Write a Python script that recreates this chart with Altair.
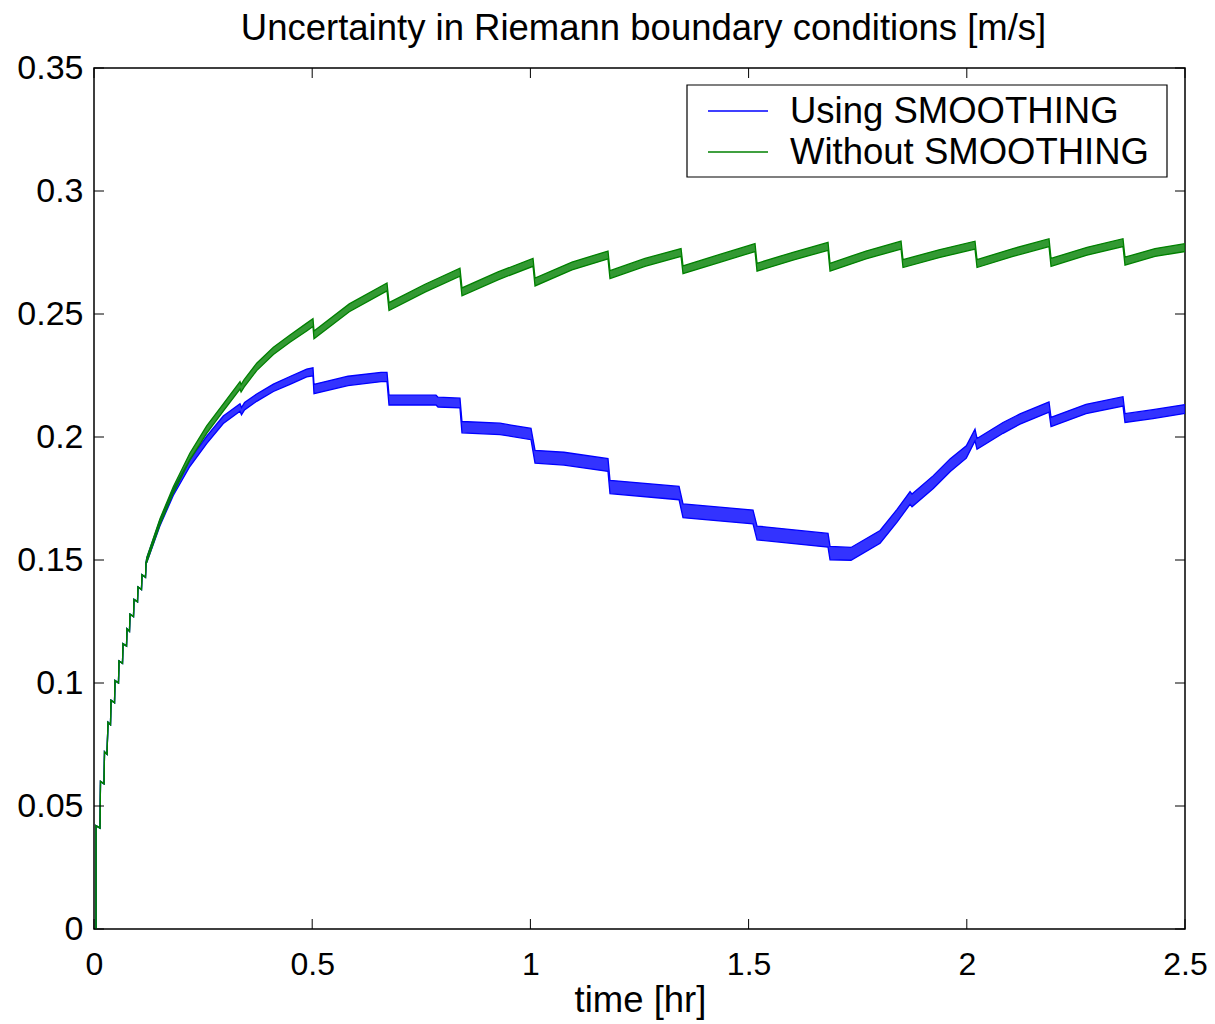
import altair as alt
import pandas as pd

TITLE = "Uncertainty in Riemann boundary conditions [m/s]"
XLABEL = "time [hr]"
SERIES = ["Using SMOOTHING", "Without SMOOTHING"]
COLORS = ["#0000ff", "#008000"]

x_ticks = [0, 0.5, 1, 1.5, 2, 2.5]
y_ticks = [0, 0.05, 0.1, 0.15, 0.2, 0.25, 0.3, 0.35]

# shared staircase start (both runs coincide here)
early_t = [0.0046, 0.0046, 0.0137, 0.0149, 0.0229, 0.0241, 0.0298, 0.0321, 0.0378, 0.0390,
           0.0470, 0.0481, 0.0561, 0.0573, 0.0653, 0.0665, 0.0745, 0.0756, 0.0813, 0.0825,
           0.0905, 0.0917, 0.0997, 0.1008, 0.1088, 0.1100, 0.1180, 0.1192]
early_v = [0.0, 0.042, 0.041, 0.060, 0.059, 0.072, 0.071, 0.084, 0.083, 0.093,
           0.092, 0.101, 0.100, 0.109, 0.108, 0.116, 0.115, 0.122, 0.121, 0.128,
           0.127, 0.134, 0.133, 0.139, 0.138, 0.144, 0.143, 0.149]
early_osc = [0, 0, 0, 0, 0, 0, 0, 0, 0, 0,
             0, 0, 0, 0, 0, 0, 0, 0, 0, 0,
             0, 0, 0, 0, 0, 0, 0, 0]

# "Without SMOOTHING" (green): centre of the oscillating trace and its half amplitude
green_t = early_t + [0.121, 0.151, 0.1817, 0.2196, 0.2582, 0.2963, 0.3346, 0.3370, 0.3440, 0.3728,
                     0.4111, 0.4491, 0.4874, 0.5018, 0.5041,
                     0.5850, 0.6714, 0.6760, 0.7585, 0.8386, 0.8432, 0.9258, 1.0060, 1.0106,
                     1.0953, 1.1778, 1.1824, 1.2626, 1.3452, 1.3497, 1.4322, 1.5147, 1.5193,
                     1.6017, 1.6820, 1.6866, 1.7690, 1.8493, 1.8538, 1.9363, 2.0188, 2.0234,
                     2.1059, 2.1884, 2.1930, 2.2755, 2.3579, 2.3625, 2.4313, 2.5]
green_v = early_v + [0.150, 0.1655, 0.1785, 0.192, 0.203, 0.212, 0.221, 0.2198, 0.2218, 0.2285,
                     0.235, 0.240, 0.2447, 0.2465, 0.2415,
                     0.2525, 0.261, 0.253, 0.2605, 0.267, 0.259, 0.2655, 0.271, 0.263,
                     0.2695, 0.274, 0.266, 0.271, 0.275, 0.268, 0.2725, 0.277, 0.269,
                     0.2735, 0.2775, 0.269, 0.274, 0.278, 0.2705, 0.2745, 0.278, 0.2705,
                     0.275, 0.279, 0.271, 0.2755, 0.279, 0.2715, 0.275, 0.277]
green_osc = early_osc + [0.0010, 0.0012, 0.0013, 0.0014, 0.0015, 0.0015, 0.0015, 0.0015, 0.0015, 0.0015,
                         0.0015, 0.0015, 0.0016, 0.0016, 0.0016,
                         0.0016, 0.0016, 0.0016, 0.0016, 0.0016, 0.0016, 0.0016, 0.0016, 0.0016,
                         0.0016, 0.0016, 0.0016, 0.0016, 0.0016, 0.0016, 0.0016, 0.0016, 0.0016,
                         0.0016, 0.0016, 0.0016, 0.0016, 0.0016, 0.0016, 0.0016, 0.0016, 0.0016,
                         0.0016, 0.0016, 0.0016, 0.0016, 0.0016, 0.0016, 0.0016, 0.0016]

# "Using SMOOTHING" (blue)
blue_t = early_t + [0.121, 0.151, 0.1817, 0.2196, 0.2582, 0.2963, 0.3346, 0.3380, 0.3450, 0.3728,
                    0.4111, 0.4491, 0.4874, 0.5018, 0.5041, 0.5821, 0.6577, 0.6714, 0.6760, 0.7837,
                    0.7883, 0.8386, 0.8432, 0.9304, 1.0014, 1.0106, 1.0770, 1.1778, 1.1824, 1.3406,
                    1.3497, 1.5101, 1.5193, 1.6820, 1.6866, 1.7347, 1.8013, 1.8402, 1.8700, 1.8745,
                    1.9233, 1.9622, 1.9989, 2.0188, 2.0234, 2.0830, 2.1219, 2.1884, 2.1930, 2.2732,
                    2.3579, 2.3625, 2.4267, 2.5]
blue_v = early_v + [0.150, 0.165, 0.1775, 0.1894, 0.1988, 0.207, 0.212, 0.2105, 0.2125, 0.216,
                    0.220, 0.223, 0.226, 0.2265, 0.2195, 0.2228, 0.2244, 0.2244, 0.215, 0.215,
                    0.2142, 0.2138, 0.204, 0.2033, 0.2012, 0.192, 0.1912, 0.1886, 0.1797, 0.1772,
                    0.170, 0.1675, 0.161, 0.158, 0.1528, 0.1525, 0.1594, 0.168, 0.1752, 0.1742,
                    0.1817, 0.1886, 0.1939, 0.2008, 0.1972, 0.2037, 0.2073, 0.2122, 0.2061, 0.2114,
                    0.2145, 0.2077, 0.2093, 0.2114]
blue_osc = early_osc + [0.0010, 0.0012, 0.0013, 0.0014, 0.0015, 0.0015, 0.0015, 0.0015, 0.0015, 0.0015,
                        0.0015, 0.0016, 0.0016, 0.0016, 0.0019, 0.0019, 0.0019, 0.0019, 0.0020, 0.0020,
                        0.0020, 0.0020, 0.0023, 0.0023, 0.0023, 0.0026, 0.0026, 0.0026, 0.0027, 0.0027,
                        0.0028, 0.0028, 0.0028, 0.0028, 0.0027, 0.0026, 0.0026, 0.0026, 0.0026, 0.0026,
                        0.0026, 0.0026, 0.0025, 0.0024, 0.0022, 0.0022, 0.0021, 0.0021, 0.0019, 0.0019,
                        0.0019, 0.0018, 0.0018, 0.0018]


def build(name, t, v, osc):
    assert len(t) == len(v) == len(osc), (name, len(t), len(v), len(osc))
    return pd.DataFrame({
        "series": name,
        "idx": list(range(len(t))),
        "t": t,
        "v": v,
        "lo": [a - b for a, b in zip(v, osc)],
        "hi": [a + b for a, b in zip(v, osc)],
    })


df_blue = build(SERIES[0], blue_t, blue_v, blue_osc)
df_green = build(SERIES[1], green_t, green_v, green_osc)

W, H = 1091, 861
FONT = "Liberation Sans"
xs = alt.Scale(domain=[0, 2.5], nice=False, zero=False)
ys = alt.Scale(domain=[0, 0.35], nice=False, zero=False)
x_axis = alt.Axis(values=x_ticks, format="~g", title=None, grid=False, ticks=False, tickSize=0,
                  domain=False, labelFont=FONT, labelFontSize=32, labelColor="black",
                  labelPadding=20, labelBaseline="top", labelFlush=False, labelOverlap=False)
y_axis = alt.Axis(values=y_ticks, format="~g", title=None, grid=False, ticks=False, tickSize=0,
                  domain=False, labelFont=FONT, labelFontSize=34, labelColor="black",
                  labelPadding=11, labelBaseline="middle", labelFlush=False, labelOverlap=False)


def X(field):
    return alt.X(f"{field}:Q", scale=xs, axis=x_axis, title=None)


def Y(field):
    return alt.Y(f"{field}:Q", scale=ys, axis=y_axis, title=None)


layers = []
for df, color in [(df_blue, COLORS[0]), (df_green, COLORS[1])]:
    base = alt.Chart(df)
    layers.append(base.mark_area(color=color, opacity=0.8).encode(x=X("t"), y=Y("lo"), y2="hi:Q"))
    layers.append(base.mark_line(color=color, strokeWidth=1.3).encode(x=X("t"), y=Y("lo"), order="idx:Q"))
    layers.append(base.mark_line(color=color, strokeWidth=1.3).encode(x=X("t"), y=Y("hi"), order="idx:Q"))

# inward ticks on all four sides (MATLAB box style)
xt = alt.Chart(pd.DataFrame({"t": x_ticks}))
yt = alt.Chart(pd.DataFrame({"v": y_ticks}))
layers.append(xt.mark_rule(color="black", strokeWidth=1).encode(x=X("t"), y=alt.value(H), y2=alt.value(H - 10)))
layers.append(xt.mark_rule(color="black", strokeWidth=1).encode(x=X("t"), y=alt.value(0), y2=alt.value(10)))
layers.append(yt.mark_rule(color="black", strokeWidth=1).encode(y=Y("v"), x=alt.value(0), x2=alt.value(10)))
layers.append(yt.mark_rule(color="black", strokeWidth=1).encode(y=Y("v"), x=alt.value(W), x2=alt.value(W - 10)))

# legend box
one = alt.Chart(pd.DataFrame({"k": [0]}))
layers.append(one.mark_rect(fill="white", stroke="black", strokeWidth=1.2).encode(
    x=alt.value(593), x2=alt.value(1073), y=alt.value(17), y2=alt.value(109)))
for i, (name, color) in enumerate(zip(SERIES, COLORS)):
    yy = 43 + 41 * i
    layers.append(one.mark_rule(color=color, strokeWidth=1.5).encode(
        x=alt.value(614), x2=alt.value(674), y=alt.value(yy)))
    layers.append(alt.Chart(pd.DataFrame({"label": [name]})).mark_text(
        font=FONT, fontSize=36.5, color="black", align="left", baseline="alphabetic").encode(
        text="label:N", x=alt.value(696), y=alt.value(yy + 12)))

# title and x label
layers.append(alt.Chart(pd.DataFrame({"label": [TITLE]})).mark_text(
    font=FONT, fontSize=36.5, color="black", align="center", baseline="alphabetic").encode(
    text="label:N", x=alt.value(W / 2 + 4), y=alt.value(-28)))
layers.append(alt.Chart(pd.DataFrame({"label": [XLABEL]})).mark_text(
    font=FONT, fontSize=36.5, color="black", align="center", baseline="alphabetic").encode(
    text="label:N", x=alt.value(W / 2 + 1), y=alt.value(H + 83)))

chart = alt.layer(*layers).properties(
    width=W, height=H,
    autosize=alt.AutoSizeParams(type="none"),
    padding={"left": 86, "top": 60, "right": 22, "bottom": 96},
    background="white",
).configure_view(stroke="black", strokeWidth=1.5)

chart.save("out.html", embed_options={"renderer": "svg", "actions": False})
